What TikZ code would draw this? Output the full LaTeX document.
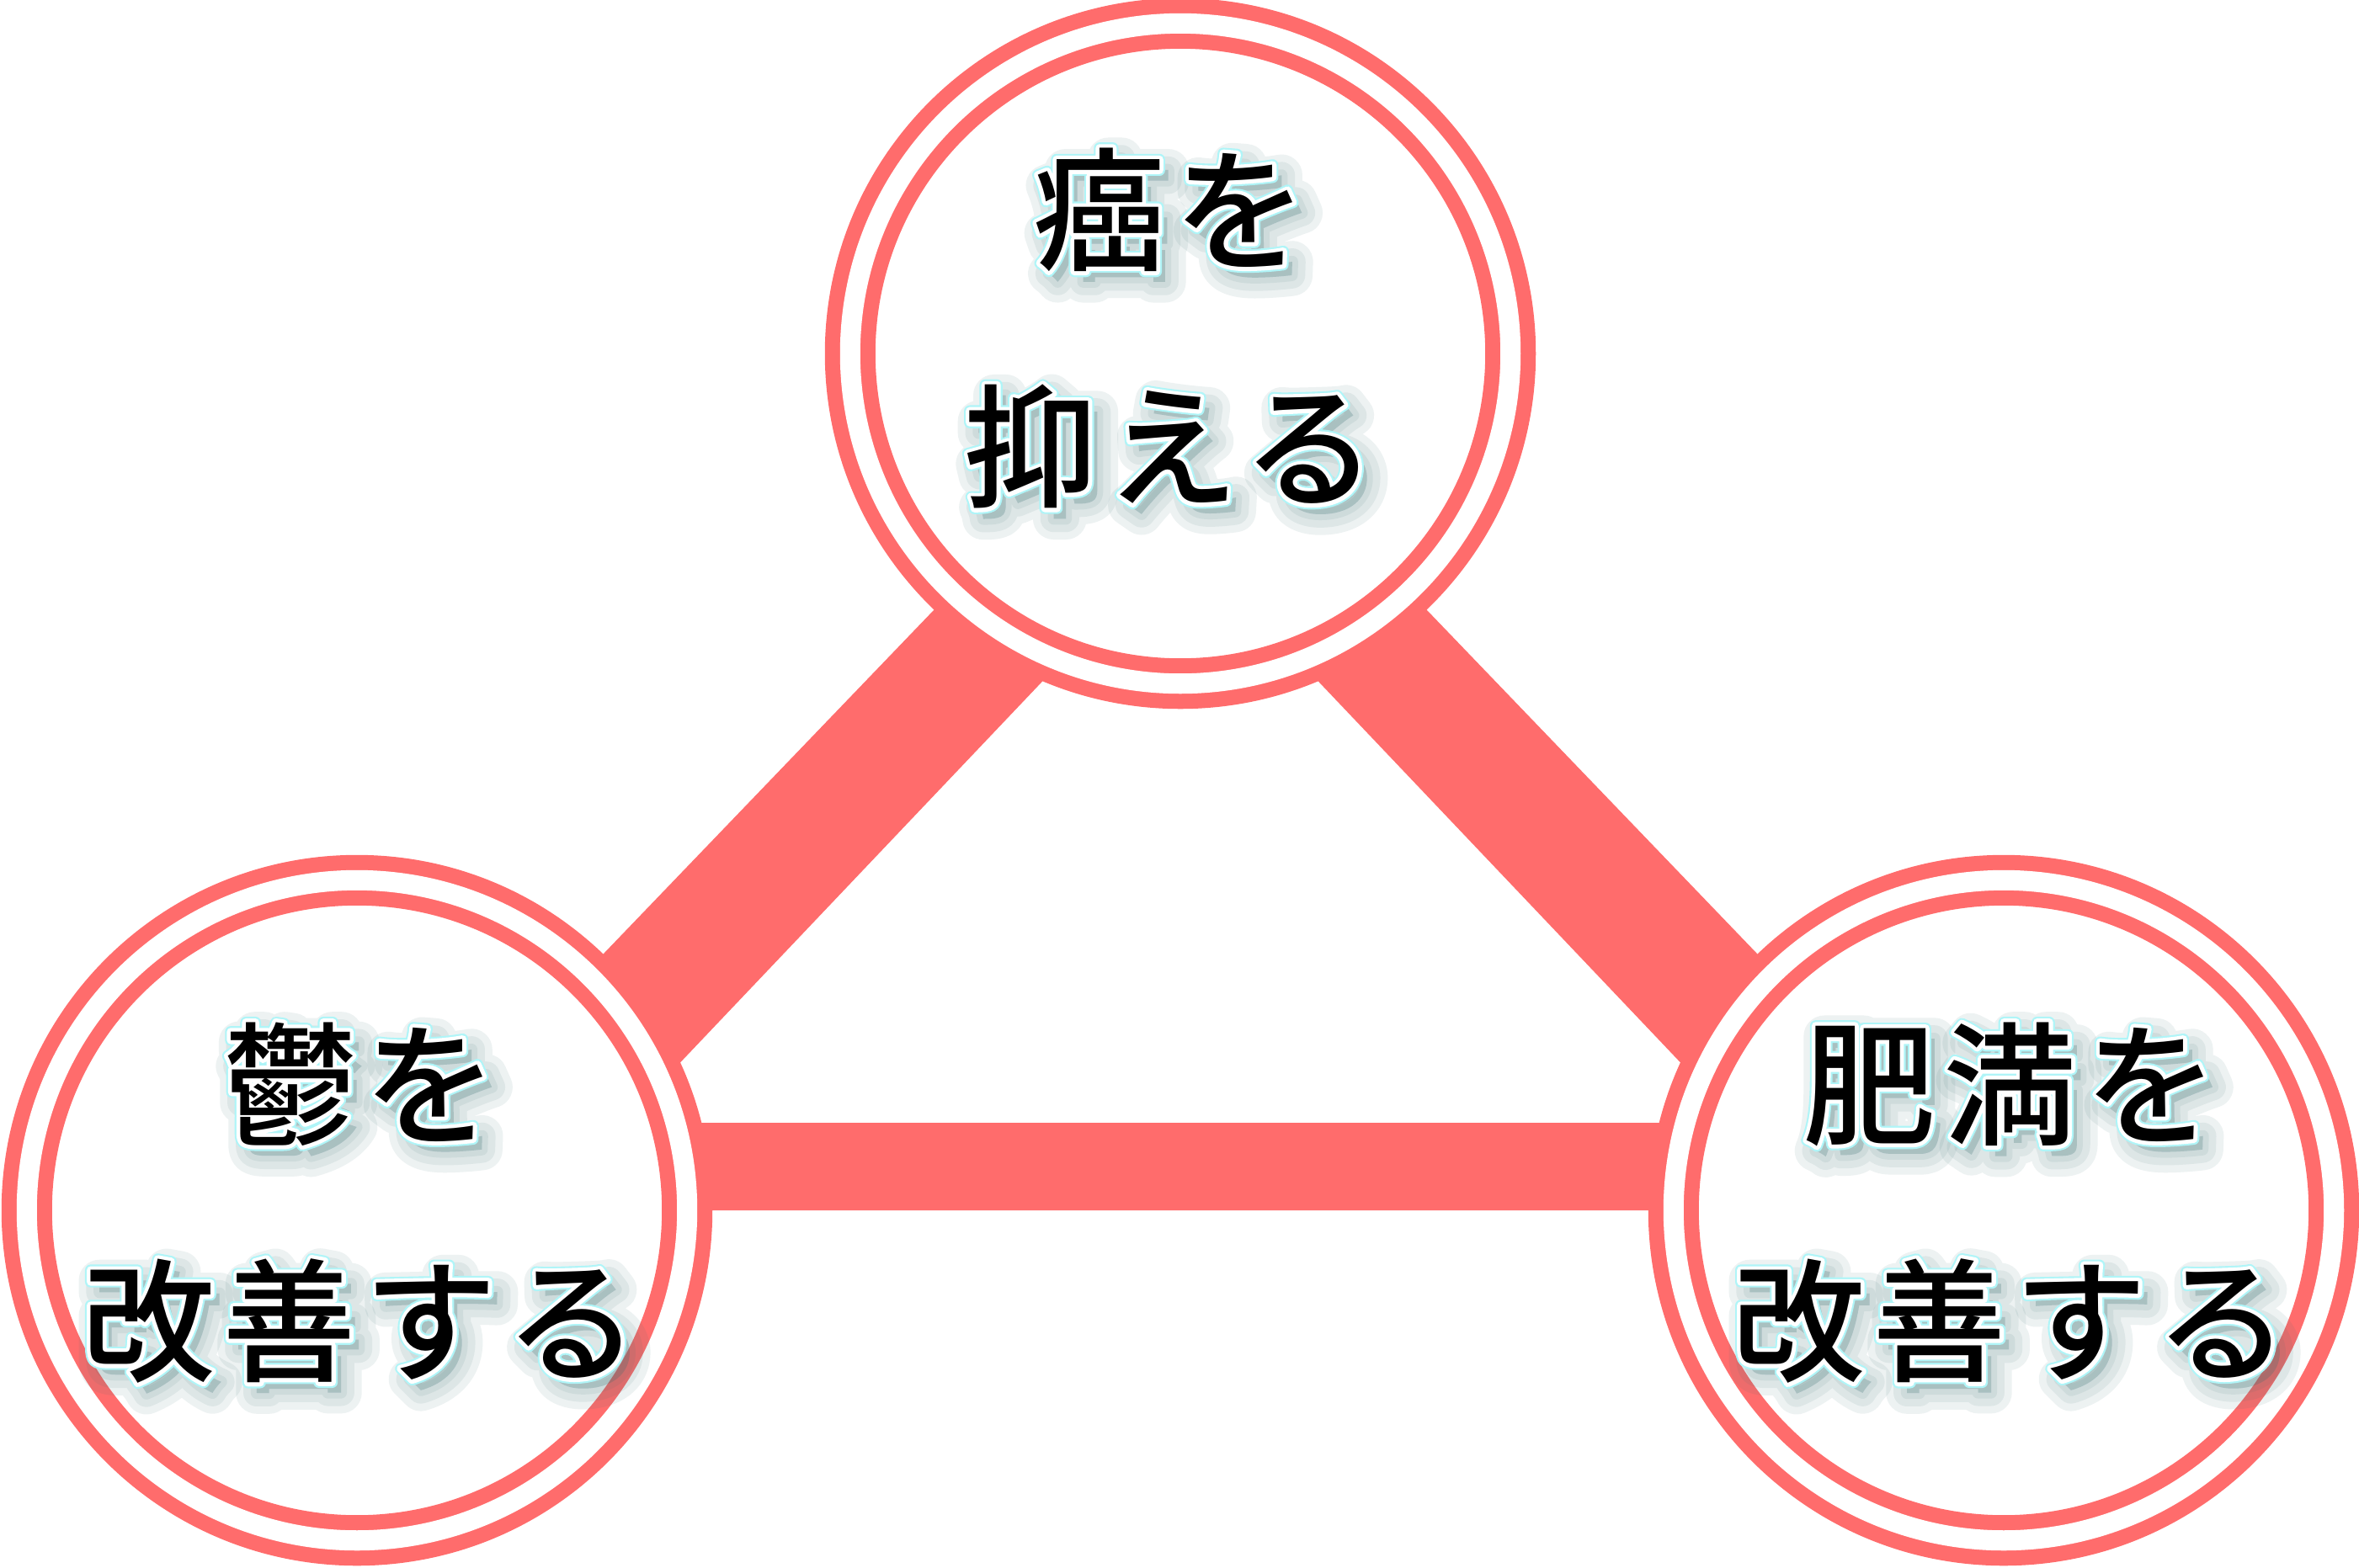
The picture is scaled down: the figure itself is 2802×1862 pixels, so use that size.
\documentclass[tikz,border=0pt]{standalone}
\usepackage{fontspec}
\usetikzlibrary{positioning, backgrounds}
\newfontfamily\jpfont{Noto Sans CJK JP}[LetterSpace=6, BoldFont={* Medium}]
\definecolor{RingColor}{RGB}{255,108,108}
\definecolor{ShadowColor}{RGB}{60,112,118}
\definecolor{EdgeColor}{RGB}{175,245,248}

\newcommand{\textlayer}[3]{\makebox[0pt][l]{\color{#1}\special{pdf:literal direct 1 j 2 Tr #2 w}#3\special{pdf:literal direct 0 Tr}}}
\newcommand{\glowtext}[1]{%
  \makebox[0pt][l]{\smash{\raisebox{-3.5pt}{\kern3pt\pgfsetfillopacity{0.09}\pgfsetstrokeopacity{0.09}%
    \textlayer{ShadowColor}{14}{#1}\textlayer{ShadowColor}{9}{#1}\textlayer{ShadowColor}{4}{#1}%
    \pgfsetfillopacity{1}\pgfsetstrokeopacity{1}}}}%
  \textlayer{EdgeColor}{3.8}{#1}\textlayer{white}{2.6}{#1}#1}

\begin{document}
\begin{tikzpicture}[x=0.01cm,y=-0.01cm,
    ring/.style={circle, draw=RingColor, line width=0.18cm, double=white, double distance=0.24cm, fill=white, minimum size=7.84cm, inner sep=0pt},
    captext/.style={font=\jpfont\bfseries\fontsize{45}{80}\selectfont, align=center, inner sep=0pt}]
  \useasboundingbox (0,0) rectangle (2802,1862);

  \foreach \name/\x/\y in {top/1402/420, left/424/1438, right/2380/1438}
    \node[ring] (\name) at (\x,\y) {};

  \coordinate (topin) at (1402,637);
  \coordinate (leftin) at (740,1334);
  \coordinate (rightin) at (2064,1334);

  \begin{scope}[on background layer]
    \fill[RingColor, even odd rule] (top.center) -- (left.center) -- (right.center) -- cycle
      (topin) -- (leftin) -- (rightin) -- cycle;
  \end{scope}

  \node[captext] (toptext) at (1390,390) {\glowtext{癌を}\\\glowtext{抑える}};
  \node[captext] (lefttext) at (428,1429) {\glowtext{鬱を}\\\glowtext{改善する}};
  \node[captext] (righttext) at (2388,1429) {\glowtext{肥満を}\\\glowtext{改善する}};
\end{tikzpicture}
\end{document}
